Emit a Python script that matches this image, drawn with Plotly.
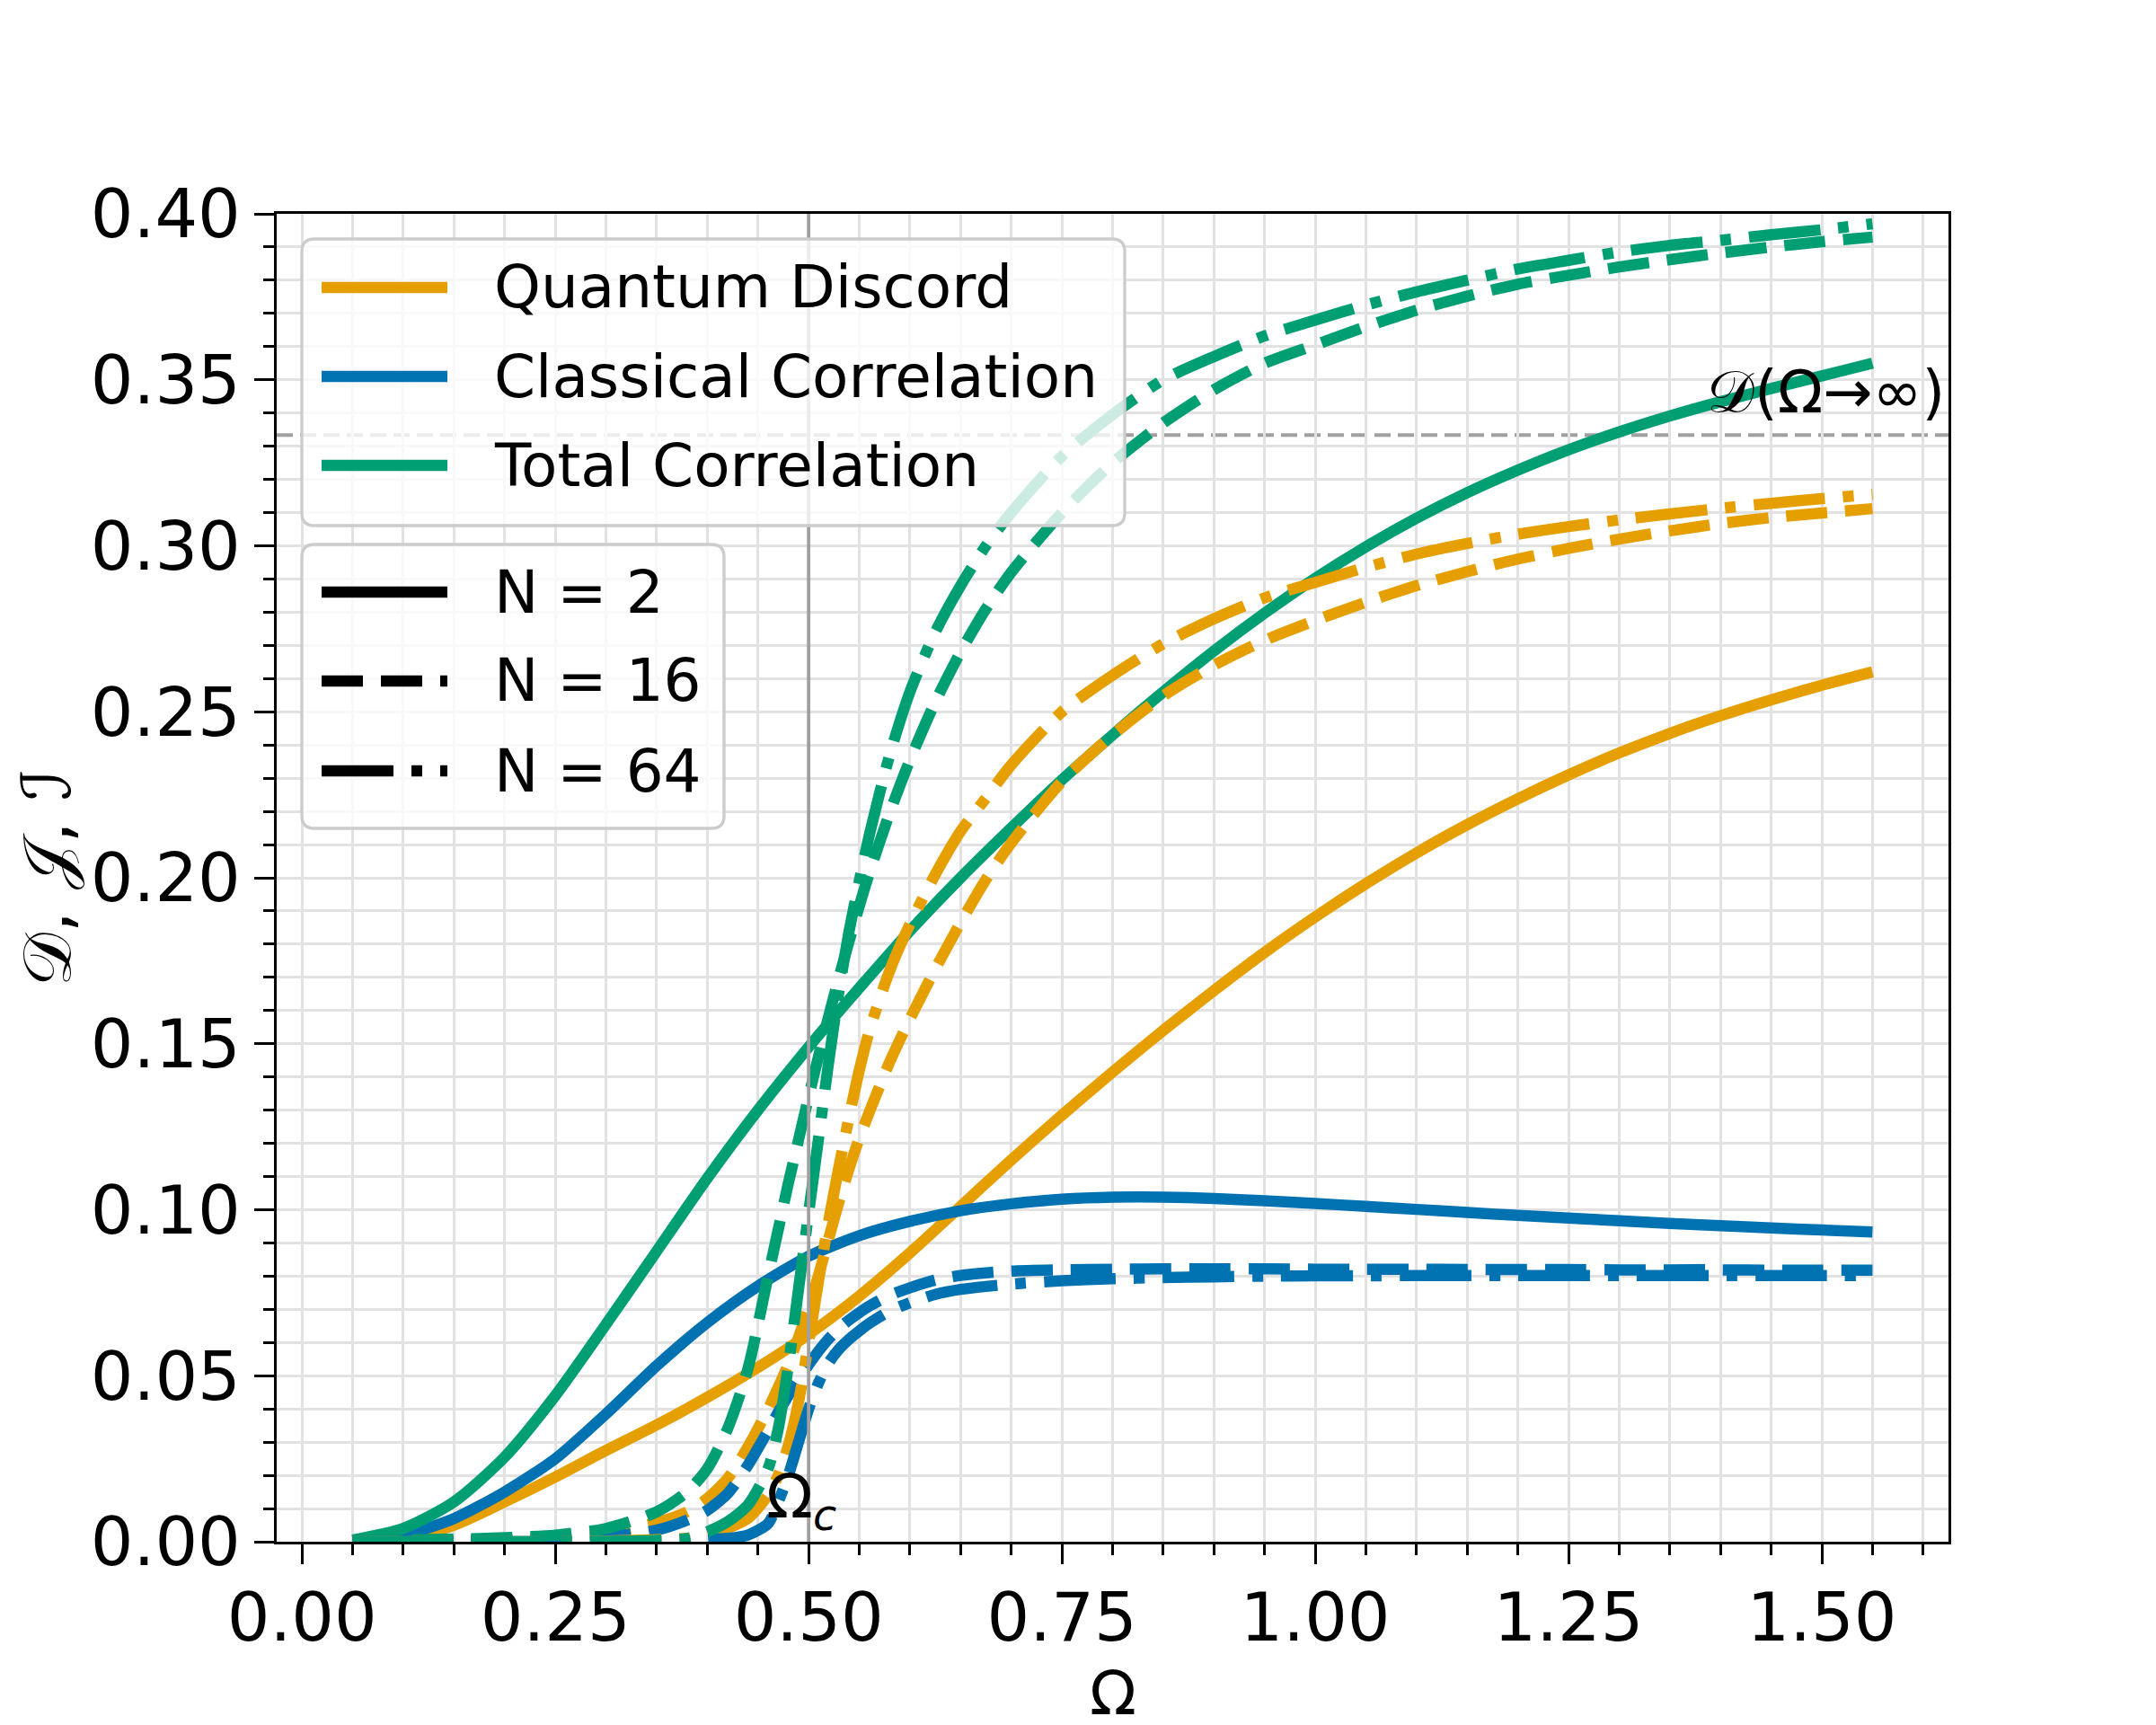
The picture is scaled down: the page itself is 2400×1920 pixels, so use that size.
import plotly.graph_objects as go

# Omega grid for the N = 2 curves
omega_n2 = [0.05, 0.10, 0.15, 0.20, 0.25, 0.30, 0.35, 0.40, 0.45, 0.50,
            0.55, 0.60, 0.65, 0.70, 0.75, 0.80, 0.85, 0.90, 0.95, 1.00,
            1.05, 1.10, 1.15, 1.20, 1.25, 1.30, 1.35, 1.40, 1.45, 1.50, 1.55]
discord_n2 = [0.0000, 0.0010, 0.0050, 0.0120, 0.0195, 0.0275, 0.0352, 0.0435, 0.0525, 0.0625,
              0.0740, 0.0870, 0.1010, 0.1150, 0.1285, 0.1415, 0.1540, 0.1660, 0.1775, 0.1882,
              0.1982, 0.2075, 0.2160, 0.2238, 0.2310, 0.2376, 0.2435, 0.2488, 0.2536, 0.2580, 0.2620]
classical_n2 = [0.0000, 0.0020, 0.0070, 0.0150, 0.0250, 0.0385, 0.0530, 0.0660, 0.0770, 0.0860,
                0.0922, 0.0965, 0.0997, 0.1018, 0.1032, 0.1038, 0.1038, 0.1034, 0.1027, 0.1019,
                0.1010, 0.1001, 0.0992, 0.0983, 0.0975, 0.0967, 0.0959, 0.0952, 0.0945, 0.0939, 0.0933]
total_n2 = [0.0005, 0.0040, 0.0120, 0.0255, 0.0440, 0.0655, 0.0875, 0.1095, 0.1300, 0.1490,
            0.1668, 0.1840, 0.2000, 0.2150, 0.2295, 0.2430, 0.2560, 0.2683, 0.2797, 0.2902,
            0.2997, 0.3083, 0.3160, 0.3228, 0.3289, 0.3343, 0.3391, 0.3434, 0.3474, 0.3512, 0.3550]

# Omega grid for the N = 16 and N = 64 curves (denser around the transition)
omega_large = [0.05, 0.10, 0.15, 0.20, 0.25, 0.30, 0.35, 0.38, 0.40, 0.42,
               0.44, 0.46, 0.47, 0.48, 0.49, 0.50, 0.51, 0.52, 0.53, 0.54,
               0.55, 0.56, 0.58, 0.60, 0.625, 0.65, 0.675, 0.70, 0.75, 0.80,
               0.85, 0.90, 0.95, 1.00, 1.05, 1.10, 1.15, 1.20, 1.25, 1.30,
               1.35, 1.40, 1.45, 1.50, 1.55]
discord_n16 = [0.0, 0.0001, 0.0003, 0.0006, 0.001, 0.0025, 0.0058, 0.009, 0.013, 0.019,
               0.0285, 0.040, 0.0465, 0.0535, 0.0615, 0.0705, 0.0805, 0.0915, 0.1025, 0.1125,
               0.1215, 0.1295, 0.1445, 0.1575, 0.1725, 0.1865, 0.1995, 0.2105, 0.2290, 0.2430,
               0.2548, 0.2640, 0.2715, 0.2775, 0.2830, 0.2880, 0.2922, 0.2960, 0.2992, 0.3020,
               0.3045, 0.3067, 0.3085, 0.3099, 0.3112]
classical_n16 = [0.0, 0.0001, 0.0002, 0.0004, 0.0008, 0.0015, 0.0035, 0.0065, 0.0095, 0.0145,
                 0.0230, 0.0335, 0.0390, 0.0440, 0.0488, 0.0533, 0.0575, 0.0612, 0.0643, 0.0668,
                 0.0690, 0.0710, 0.0742, 0.0765, 0.0788, 0.0802, 0.0810, 0.0815, 0.0819, 0.0821,
                 0.0822, 0.0822, 0.0822, 0.0821, 0.0821, 0.0821, 0.0820, 0.0820, 0.0820, 0.0819,
                 0.0819, 0.0819, 0.0818, 0.0818, 0.0818]
total_n16 = [0.0005, 0.0006, 0.0008, 0.0012, 0.002, 0.004, 0.009, 0.015, 0.022, 0.034,
             0.052, 0.080, 0.094, 0.108, 0.121, 0.134, 0.1465, 0.1585, 0.170, 0.181,
             0.1915, 0.2015, 0.2195, 0.2355, 0.2530, 0.2680, 0.2810, 0.2920, 0.3100, 0.3250,
             0.3370, 0.3470, 0.3550, 0.3605, 0.3660, 0.3710, 0.3752, 0.3788, 0.3815, 0.3840,
             0.3862, 0.3882, 0.3900, 0.3916, 0.3930]
discord_n64 = [0.0, 0.0, 0.0, 0.0, 0.0, 0.0002, 0.0006, 0.001, 0.002, 0.004,
               0.007, 0.014, 0.020, 0.029, 0.042, 0.060, 0.079, 0.097, 0.113, 0.128,
               0.142, 0.154, 0.172, 0.186, 0.201, 0.214, 0.224, 0.234, 0.250, 0.261,
               0.2705, 0.278, 0.2843, 0.289, 0.2935, 0.2975, 0.3007, 0.3035, 0.3058, 0.3078,
               0.3096, 0.3113, 0.3128, 0.3142, 0.3155]
classical_n64 = [0.0, 0.0, 0.0, 0.0, 0.0, 0.0, 0.0001, 0.0003, 0.0006, 0.001,
                 0.002, 0.0055, 0.012, 0.020, 0.030, 0.040, 0.048, 0.054, 0.058, 0.061,
                 0.0635, 0.0658, 0.0695, 0.072, 0.0745, 0.076, 0.0769, 0.0776, 0.0786, 0.0792,
                 0.0796, 0.0798, 0.0800, 0.0801, 0.0801, 0.0802, 0.0802, 0.0802, 0.0802, 0.0802,
                 0.0802, 0.0802, 0.0802, 0.0802, 0.0802]
total_n64 = [0.0, 0.0, 0.0, 0.0, 0.0, 0.0001, 0.0004, 0.001, 0.003, 0.006,
             0.011, 0.022, 0.034, 0.053, 0.076, 0.099, 0.122, 0.145, 0.166, 0.184,
             0.199, 0.213, 0.237, 0.256, 0.274, 0.288, 0.300, 0.310, 0.327, 0.3395,
             0.350, 0.357, 0.3632, 0.368, 0.3725, 0.3765, 0.380, 0.3834, 0.386, 0.3885,
             0.3905, 0.392, 0.3937, 0.3952, 0.397]

quantity_labels = ["Quantum Discord", "Classical Correlation", "Total Correlation"]
size_labels = ["N = 2", "N = 16", "N = 64"]
x_title = "Ω"
y_title = "𝒟, 𝒥, ℐ"
omega_critical = 0.5
discord_limit = 1 / 3

colors = ["#E69F00", "#0072B2", "#009E73"]
dashes = ["solid", "46px,20px", "80px,20px,12px,20px"]
LW = 12.5
FONT = "DejaVu Sans"

series = [
    (omega_n2, [discord_n2, classical_n2, total_n2]),
    (omega_large, [discord_n16, classical_n16, total_n16]),
    (omega_large, [discord_n64, classical_n64, total_n64]),
]

fig = go.Figure()
for k, (xs, curves) in enumerate(series):
    for q, ys in enumerate(curves):
        fig.add_trace(go.Scatter(
            x=xs, y=ys, mode="lines",
            name=f"{quantity_labels[q]}, {size_labels[k]}",
            line=dict(color=colors[q], width=LW, dash=dashes[k],
                      shape="spline", smoothing=0.7),
            showlegend=False,
        ))

# plot area in pixels: x 300..2161, y 230..1708
L, R, T, B = 300, 2161, 230, 1708


def paper(px, py):
    return (px - L) / (R - L), (B - py) / (B - T)


shapes = [
    dict(type="line", xref="paper", yref="y", x0=0, x1=1,
         y0=discord_limit, y1=discord_limit, layer="between",
         line=dict(color="#a0a0a0", width=4, dash="18px,8px")),
    dict(type="line", xref="x", yref="paper", x0=omega_critical, x1=omega_critical,
         y0=0, y1=1, layer="above",
         line=dict(color="#a0a0a0", width=3.8)),
]


def rounded_box(x0p, y0p, x1p, y1p, r=14):
    (a, b), (c, d) = paper(x0p, y1p), paper(x1p, y0p)
    rx, ry = r / (R - L), r / (B - T)
    path = (f"M {a+rx},{b} L {c-rx},{b} Q {c},{b} {c},{b+ry} L {c},{d-ry} "
            f"Q {c},{d} {c-rx},{d} L {a+rx},{d} Q {a},{d} {a},{d-ry} "
            f"L {a},{b+ry} Q {a},{b} {a+rx},{b} Z")
    return dict(type="path", xref="paper", yref="paper", path=path, layer="above",
                fillcolor="rgba(255,255,255,0.8)", line=dict(color="#cccccc", width=3.3))


annotations = []


def legend_block(box, rows, labels, line_colors, line_dashes):
    shapes.append(rounded_box(*box))
    for row_y, lab, col, dsh in zip(rows, labels, line_colors, line_dashes):
        xa, ya = paper(350, row_y)
        xb, _ = paper(490, row_y)
        shapes.append(dict(type="line", xref="paper", yref="paper", x0=xa, x1=xb,
                           y0=ya, y1=ya, layer="above",
                           line=dict(color=col, width=LW, dash=dsh)))
        xt, _ = paper(540, row_y)
        annotations.append(dict(xref="paper", yref="paper", x=xt, y=ya, text=lab,
                                showarrow=False, xanchor="left", yanchor="middle",
                                font=dict(family=FONT, size=66, color="black")))


legend_block((328, 258, 1244, 577), [312, 411, 510], quantity_labels, colors, ["solid"] * 3)
legend_block((328, 598, 798, 914), [651, 750, 850], size_labels, ["black"] * 3, dashes)

annotations.append(dict(x=0.456, y=0, xref="x", yref="y", text="Ω<sub><i>c</i></sub>",
                        showarrow=False, xanchor="left", yanchor="bottom",
                        font=dict(family=FONT, size=68, color="black")))
annotations.append(dict(x=1.385, y=discord_limit + 0.002, xref="x", yref="y", text="𝒟(Ω→∞)",
                        showarrow=False, xanchor="left", yanchor="bottom",
                        font=dict(family=FONT, size=66, color="black")))

# axis titles, placed like the reference
xt_x, xt_y = paper((L + R) / 2, 1877)
annotations.append(dict(x=xt_x, y=xt_y, xref="paper", yref="paper", text=x_title,
                        showarrow=False, xanchor="center", yanchor="middle", borderpad=0,
                        font=dict(family=FONT, size=68, color="black")))
yt_x, yt_y = paper(44, (T + B) / 2)
annotations.append(dict(x=yt_x, y=yt_y, xref="paper", yref="paper", text=y_title,
                        showarrow=False, xanchor="center", yanchor="middle", textangle=-90,
                        font=dict(family=FONT, size=75, color="black")))

grid = "#e2e2e2"
axis_common = dict(
    showline=True, linecolor="black", linewidth=3.3, mirror=True,
    ticks="outside", ticklen=22, tickwidth=3, tickcolor="black",
    showgrid=True, gridcolor=grid, gridwidth=3, zeroline=False,
    tickformat=".2f", tickfont=dict(family=FONT, size=75, color="black"),
)

fig.update_xaxes(
    range=[-0.025, 1.625], tick0=0, dtick=0.25, ticklabelstandoff=-5,
    minor=dict(tick0=0, dtick=0.05, ticks="outside", ticklen=12, tickwidth=2.5,
               tickcolor="black", showgrid=True, gridcolor=grid, gridwidth=3),
    **axis_common,
)
fig.update_yaxes(
    range=[0, 0.4], tick0=0, dtick=0.05,
    minor=dict(tick0=0, dtick=0.01, ticks="outside", ticklen=12, tickwidth=2.5,
               tickcolor="black", showgrid=True, gridcolor=grid, gridwidth=3),
    **axis_common,
)

fig.update_layout(
    width=2400, height=1920,
    margin=dict(l=L, r=2400 - R, t=T, b=1920 - B, autoexpand=False),
    plot_bgcolor="white", paper_bgcolor="white",
    font=dict(family=FONT, color="black"),
    showlegend=False,
    shapes=shapes, annotations=annotations,
)

fig.write_html("out.html")
